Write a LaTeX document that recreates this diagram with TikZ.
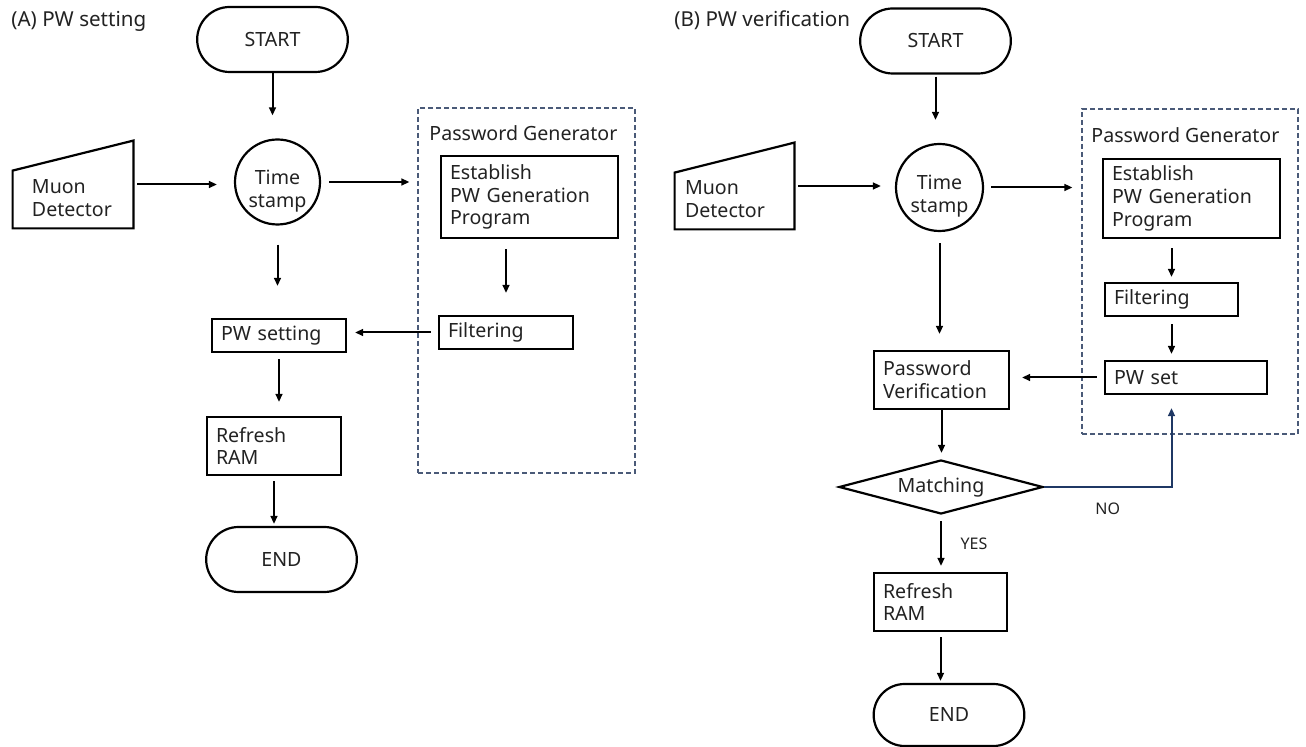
\documentclass[tikz,border=0pt]{standalone}
\usepackage{fontspec}
\setmainfont{Noto Sans}
\usetikzlibrary{arrows.meta, shapes.geometric, shapes.misc}
\definecolor{ink}{HTML}{222222}
\definecolor{groupline}{HTML}{4A5A78}
\definecolor{nolink}{HTML}{1F3864}
\tikzstyle{chart}=[x=0.5pt, y=-0.5pt, >={Triangle[length=4pt,width=3.4pt]}, font=\fontsize{9.8pt}{11.4pt}\selectfont, text=ink]
\tikzstyle{term}=[draw, line width=1.1pt, rounded rectangle, minimum width=82pt, minimum height=32.5pt]
\tikzstyle{stamp}=[draw, line width=1.1pt, circle, inner sep=0pt]
\tikzstyle{stamplbl}=[anchor=center, align=center, inner sep=0pt, yshift=-4.5pt]
\tikzstyle{proc}=[draw, line width=1.1pt, align=left, inner xsep=4.5pt, inner ysep=0pt]
\tikzstyle{manual}=[inner sep=0pt]
\tikzstyle{muonlbl}=[anchor=south west, align=left, inner sep=0pt, yshift=5.5pt]
\tikzstyle{decision}=[draw, line width=1.1pt, diamond, aspect=3.8, inner sep=0pt, minimum width=102pt, minimum height=27pt]
\tikzstyle{group}=[draw=groupline, line width=.6pt, dash pattern=on 2.5pt off 1.5pt, inner sep=0pt]
\tikzstyle{flow}=[->, line width=1pt]
\tikzstyle{small}=[font=\fontsize{8pt}{9pt}\selectfont]
\tikzstyle{title}=[anchor=base west, inner sep=0pt, font=\fontsize{10.3pt}{12pt}\selectfont]

\begin{document}
\begin{tikzpicture}[chart]
  \useasboundingbox (0,0) rectangle (1306,747);

  % (A) PW setting
  \node[title] (titleA) at (11,27) {(A) PW setting};
  \node[term] (startA) at (272.5,39.5) {START};
  \node[stamp, minimum size=42.5pt, label={[stamplbl]center:{Time\\stamp}}] (tsA) at (277.5,182) {};
  \node[manual, minimum width=60pt, minimum height=43.5pt,
        label={[muonlbl, xshift=9.5pt]south west:{Muon\\Detector}}] (muonA) at (73,184.5) {};
  \node[group, minimum width=108.5pt, minimum height=182.5pt] (genA) at (526.5,290.5) {};
  \node[anchor=base west, inner sep=0pt] (genAlbl) at (429,141) {Password Generator};
  \node[proc, text width=79.5pt, minimum height=41pt] (estA) at (529.5,197) {Establish\\PW Generation\\Program};
  \node[proc, text width=58pt, minimum height=16.5pt] (filtA) at (506,332.5) {Filtering};
  \node[proc, text width=58pt, minimum height=16.5pt] (setA) at (279,335.5) {PW setting};
  \node[proc, text width=58pt, minimum height=29pt] (ramA) at (274,446) {Refresh\\RAM};
  \node[term] (endA) at (281.5,559.5) {END};

  \draw[flow, shorten >=11.5pt] (startA.south) -- (startA.south |- tsA.north);
  \draw[flow, shorten <=2pt, shorten >=8.5pt] (muonA.east) -- (muonA.east -| tsA.west);
  \draw[flow, shorten <=4pt, shorten >=4pt] (tsA.east) -- (tsA.east -| genA.west);
  \draw[flow, shorten <=9.5pt, shorten >=16pt] (tsA.south) -- (tsA.south |- setA.north);
  \draw[flow, shorten <=5pt, shorten >=11pt] (filtA.north |- estA.south) -- (filtA.north);
  \draw[flow, shorten <=3.5pt, shorten >=4pt] (filtA.west) -- (filtA.west -| setA.east);
  \draw[flow, shorten <=3pt, shorten >=7pt] (setA.south) -- (setA.south |- ramA.north);
  \draw[flow, shorten <=2.5pt, shorten >=1pt] (ramA.south) -- (ramA.south |- endA.north);

  % (B) PW verification
  \node[title] (titleB) at (674,27) {(B) PW verification};
  \node[term] (startB) at (935.5,41) {START};
  \node[stamp, minimum size=43.5pt, label={[stamplbl]center:{Time\\stamp}}] (tsB) at (939.5,187.5) {};
  \node[manual, minimum width=59.5pt, minimum height=43pt,
        label={[muonlbl, xshift=5pt]south west:{Muon\\Detector}}] (muonB) at (734.5,186) {};
  \node[group, minimum width=108pt, minimum height=162.5pt] (genB) at (1190,271.5) {};
  \node[anchor=base west, inner sep=0pt] (genBlbl) at (1091,143) {Password Generator};
  \node[proc, text width=79.5pt, minimum height=39.5pt] (estB) at (1191.5,198.5) {Establish\\PW Generation\\Program};
  \node[proc, text width=57.5pt, minimum height=16.5pt] (filtB) at (1171.5,299.5) {Filtering};
  \node[proc, text width=72pt, minimum height=16.5pt] (pwsetB) at (1186,377.5) {PW set};
  \node[proc, text width=58.5pt, minimum height=29pt] (verB) at (941.5,380) {Password\\Verification};
  \node[decision] (matchB) at (941,487) {Matching};
  \node[proc, text width=57.5pt, minimum height=29pt] (ramB) at (940.5,602) {Refresh\\RAM};
  \node[term, minimum height=31pt] (endB) at (949,715) {END};

  \draw[flow, shorten <=1pt, shorten >=11.5pt] (startB.south) -- (startB.south |- tsB.north);
  \draw[flow, shorten <=2pt, shorten >=7pt] (muonB.east) -- (muonB.east -| tsB.west);
  \draw[flow, shorten <=3.5pt, shorten >=4.5pt] (tsB.east) -- (tsB.east -| genB.west);
  \draw[flow, shorten <=5.5pt, shorten >=8pt] (tsB.south) -- (tsB.south |- verB.north);
  \draw[flow, shorten <=4.5pt, shorten >=2.5pt] (filtB.north |- estB.south) -- (filtB.north);
  \draw[flow, shorten <=3.5pt, shorten >=3pt] (filtB.south) -- (filtB.south |- pwsetB.north);
  \draw[flow, shorten <=3.5pt, shorten >=6pt] (pwsetB.west) -- (pwsetB.west -| verB.east);
  \draw[flow, shorten >=3pt] (verB.south) -- (verB.south |- matchB.north);
  \draw[flow, shorten <=3pt, shorten >=3pt] (matchB.south) -- (matchB.south |- ramB.north)
    node[small, midway, right=6pt] {YES};
  \draw[flow, shorten <=2.5pt, shorten >=1pt] (ramB.south) -- (ramB.south |- endB.north);
  \draw[flow, draw=nolink, shorten >=6.5pt] (matchB.east) -| (filtB.south |- pwsetB.south)
    node[small, pos=.25, below=4pt] {NO};

  % manual input shapes
  \foreach \m in {muonA, muonB}
    \draw[line width=1.1pt] (\m.south west) -- (\m.south east) -- (\m.north east)
      -- ([yshift=-15pt]\m.north west) -- cycle;
\end{tikzpicture}
\end{document}
